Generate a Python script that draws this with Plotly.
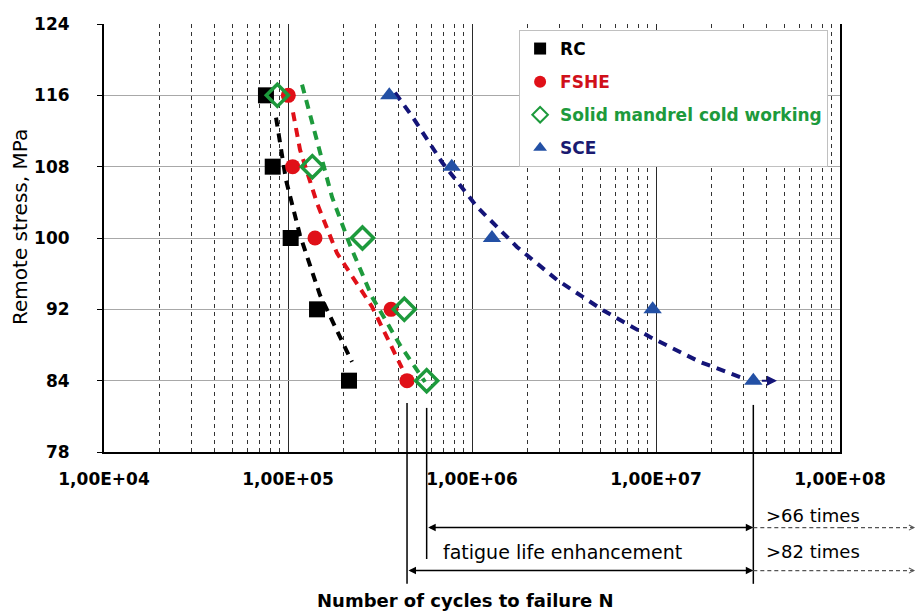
import numpy as np
import plotly.graph_objects as go

# ---------------- data ----------------
stress_levels = [116, 108, 100, 92, 84]
rc_cycles = [75900, 82600, 103400, 143800, 214600]
fshe_cycles = [100400, 106000, 140200, 362900, 443500]
smcw_cycles = [87500, 135600, 254000, 428600, 567000]
sce_cycles = [355200, 776000, 1284000, 9590000, 33800000]

# dashed trend curves
rc_trend_N = [86100, 97500, 116200, 149200, 222700]
rc_trend_S = [113.5, 106.5, 100.3, 93.6, 86.1]
fshe_trend_N = [106500, 116200, 143800, 184600, 286100, 416500]
fshe_trend_S = [114.1, 109.9, 103.9, 98.3, 92.3, 85.4]
smcw_trend_N = [119200, 143800, 173400, 217300, 286100, 406200, 555400]
smcw_trend_S = [117.2, 110.7, 104.6, 99.2, 93.4, 88.0, 83.85]
sce_trend_N = [381500, 477900, 687100, 1064600, 1756000, 2897000, 5152000,
               9277000, 17340000, 30460000]
sce_trend_S = [116.3, 113.5, 108.5, 103.5, 99.0, 95.3, 91.9, 88.9, 86.1, 84.2]
sce_arrow_end_N = 49000000

y_tick_vals = [76, 84, 92, 100, 108, 116, 124]
y_tick_text = ["78", "84", "92", "100", "108", "116", "124"]
x_tick_vals = [1e4, 1e5, 1e6, 1e7, 1e8]
x_tick_text = ["1,00E+04", "1,00E+05", "1,00E+06", "1,00E+07", "1,00E+08"]
x_minor_vals = [k * 10 ** e for e in range(4, 8) for k in range(2, 10)]

FONT = "DejaVu Sans"
C_RC = "#000000"
C_FSHE = "#e01018"
C_SMCW = "#1d9a3c"
C_SCE_M = "#2350a5"
C_SCE_L = "#141478"

fig = go.Figure()

dash = "9px,7px"
for xs, ys, col in [(rc_trend_N, rc_trend_S, C_RC),
                    (fshe_trend_N, fshe_trend_S, C_FSHE),
                    (smcw_trend_N, smcw_trend_S, C_SMCW),
                    (sce_trend_N, sce_trend_S, C_SCE_L)]:
    fig.add_trace(go.Scatter(x=xs, y=ys, mode="lines", showlegend=False,
                             line=dict(color=col, width=4, dash=dash),
                             hoverinfo="skip"))

fig.add_trace(go.Scatter(
    x=rc_cycles, y=stress_levels, mode="markers",
    name="<b>RC</b>", legendgroup="g1",
    marker=dict(symbol="square", size=16, color=C_RC)))
fig.add_trace(go.Scatter(
    x=fshe_cycles, y=stress_levels, mode="markers",
    name="<span style='color:#d0101a'><b>FSHE</b></span>", legendgroup="g2",
    marker=dict(symbol="circle", size=15, color=C_FSHE)))
fig.add_trace(go.Scatter(
    x=smcw_cycles, y=stress_levels, mode="markers",
    name="<span style='color:#1d9a3c'><b>Solid mandrel cold working</b></span>",
    legendgroup="g3",
    marker=dict(symbol="diamond-open", size=17, color=C_SMCW,
                line=dict(width=3.5, color=C_SMCW))))
fig.add_trace(go.Scatter(
    x=sce_cycles, y=stress_levels, mode="markers",
    name="<span style='color:#1a1a70'><b>SCE</b></span>", legendgroup="g4",
    marker=dict(symbol="triangle-up", size=16, color=C_SCE_M)))

annotations = []
shapes = []

# arrow after last SCE point
annotations.append(dict(
    x=np.log10(sce_arrow_end_N), y=stress_levels[-1], xref="x", yref="y",
    ax=np.log10(sce_cycles[-1]), ay=stress_levels[-1], axref="x", ayref="y",
    showarrow=True, arrowhead=2, arrowsize=1, arrowwidth=2,
    arrowcolor=C_SCE_L, text="", standoff=6, startstandoff=7))

# vertical reference lines below the plot
for n, top, bottom in [(fshe_cycles[-1], 0.1145, -0.308),
                       (smcw_cycles[-1], 0.103, -0.25),
                       (sce_cycles[-1], 0.11, -0.308)]:
    shapes.append(dict(type="line", xref="x", yref="paper",
                       x0=n, x1=n, y0=top, y1=bottom,
                       line=dict(color="black", width=1.5)))

# double arrows
for n_start, yp in [(smcw_cycles[-1], -0.1766), (fshe_cycles[-1], -0.277)]:
    annotations.append(dict(
        x=np.log10(sce_cycles[-1]), y=yp, xref="x", yref="paper",
        ax=np.log10(n_start), ay=0, axref="x", ayref="pixel",
        showarrow=True, arrowhead=2, arrowside="end+start", arrowsize=1,
        arrowwidth=1.5, arrowcolor="black", text=""))
    shapes.append(dict(type="line", xref="x", yref="paper",
                       x0=sce_cycles[-1], x1=1e8, y0=yp, y1=yp,
                       line=dict(color="#555555", width=1.2, dash="4px,3px")))
    shapes.append(dict(type="line", xref="paper", yref="paper",
                       x0=1.0, x1=1.1, y0=yp, y1=yp,
                       line=dict(color="#555555", width=1.2, dash="4px,3px")))
    annotations.append(dict(
        x=1.102, y=yp, xref="paper", yref="paper", ax=-6, ay=0,
        showarrow=True, arrowhead=5, arrowsize=1, arrowwidth=1,
        arrowcolor="#555555", text=""))

txt_font = dict(family=FONT, size=18, color="black")
annotations.append(dict(text="&gt;66 times", x=np.log10(sce_cycles[-1]),
                        xref="x", xanchor="left", xshift=11,
                        y=-0.1495, yref="paper", yanchor="middle",
                        showarrow=False, font=txt_font))
annotations.append(dict(text="&gt;82 times", x=np.log10(sce_cycles[-1]),
                        xref="x", xanchor="left", xshift=11,
                        y=-0.233, yref="paper", yanchor="middle",
                        showarrow=False, font=txt_font))
annotations.append(dict(text="fatigue life enhancement",
                        x=np.log10(smcw_cycles[-1]), xref="x",
                        xanchor="left", xshift=14,
                        y=-0.233, yref="paper", yanchor="middle",
                        showarrow=False,
                        font=dict(family=FONT, size=19, color="black")))

# axis titles
annotations.append(dict(text="<b>Number of cycles to failure N</b>",
                        x=0.5, xref="paper", xshift=-7, y=-0.347,
                        yref="paper", yanchor="middle", showarrow=False,
                        font=dict(family=FONT, size=18, color="black")))
annotations.append(dict(text="Remote stress, MPa", textangle=-90,
                        x=-0.114, xref="paper", xanchor="center",
                        y=0.526, yref="paper", yanchor="middle",
                        showarrow=False,
                        font=dict(family=FONT, size=20, color="black")))

fig.update_layout(
    width=919, height=613,
    margin=dict(l=104, r=79, t=24, b=161),
    paper_bgcolor="white", plot_bgcolor="white",
    font=dict(family=FONT, size=17, color="black"),
    showlegend=True,
    legend=dict(x=0.564, y=0.986, xanchor="left", yanchor="top",
                bgcolor="white", bordercolor="#c0c0c0", borderwidth=1,
                font=dict(family=FONT, size=17, color="black"),
                itemsizing="constant", itemwidth=30,
                tracegroupgap=8),
    annotations=annotations,
    shapes=shapes,
)

fig.update_xaxes(
    type="log", range=[4, 8],
    tickmode="array", tickvals=x_tick_vals, ticktext=x_tick_text,
    tickfont=dict(family=FONT, size=17, color="black", weight="bold"),
    showgrid=True, gridcolor="#2a2a2a", gridwidth=1.3,
    showline=True, linecolor="black", linewidth=2,
    ticks="", ticklabelstandoff=11,
    zeroline=False,
    minor=dict(tickmode="array", tickvals=x_minor_vals, showgrid=True,
               gridcolor="#333333", gridwidth=1, griddash="4px,4px",
               ticks=""),
)
fig.update_yaxes(
    range=[76, 124],
    tickmode="array", tickvals=y_tick_vals, ticktext=y_tick_text,
    tickfont=dict(family=FONT, size=17, color="black", weight="bold"),
    showgrid=True, gridcolor="#a8a8a8", gridwidth=1,
    showline=True, linecolor="black", linewidth=2, mirror=True,
    ticks="outside", ticklen=5, tickcolor="black",
    ticklabelstandoff=24,
    zeroline=False,
)

fig.write_html("out.html")
